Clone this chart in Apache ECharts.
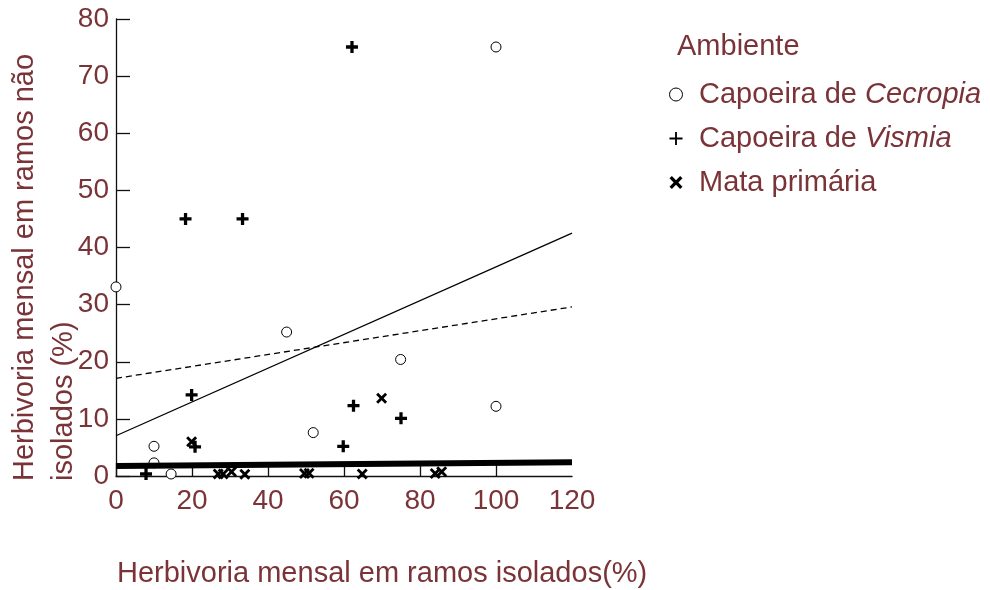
<!DOCTYPE html>
<html>
<head>
<meta charset="utf-8">
<script src="https://cdn.jsdelivr.net/npm/echarts@6/dist/echarts.min.js"></script>
<style>
  html, body { margin: 0; padding: 0; background: #fff; }
  #chart { width: 990px; height: 590px; }
</style>
</head>
<body>
<div id="chart"></div>
<script>
// Monthly herbivory: isolated branches (x) vs non-isolated branches (y), in %
var xTicks = [0, 20, 40, 60, 80, 100, 120];
var yTicks = [0, 10, 20, 30, 40, 50, 60, 70, 80];

var seriesNames = ['Capoeira de Cecropia', 'Capoeira de Vismia', 'Mata primária'];

var cecropia = [
  [0, 33.1], [10, 5.2], [10, 2.3], [14.5, 0.35], [44.9, 25.2],
  [51.9, 7.6], [74.9, 20.4], [100, 12.2], [100, 75.1]
];
var vismia = [
  [62.1, 75.1], [18.3, 45], [33.3, 45], [19.9, 14.2], [20.8, 5.1],
  [7.9, 0.35], [62.5, 12.3], [75, 10.1], [59.8, 5.2]
];
var mata = [
  [19.9, 6.0], [26.9, 0.35], [28.2, 0.35], [30.4, 0.75], [33.9, 0.3],
  [49.6, 0.45], [50.8, 0.5], [64.8, 0.35], [84, 0.45], [85.7, 0.75],
  [69.9, 13.6]
];

// Fitted lines, given by their end points
var fitSolid = [[0, 7.05], [120, 42.5]];
var fitDashed = [[0, 17.1], [120, 29.6]];
var fitThick = [[0, 1.75], [120, 2.4]];

var TEXT = '#7a3438';
var FONT = '"Liberation Sans", Arial, sans-serif';

var plusPath = 'path://M4,0H7V4H11V7H7V11H4V7H0V4H4Z';
var plusThinPath = 'path://M6,0H8V6H14V8H8V14H6V8H0V6H6Z';
var crossPath = 'path://M0,2L2,0L5.5,3.5L9,0L11,2L7.5,5.5L11,9L9,11L5.5,7.5L2,11L0,9L3.5,5.5Z';

var chart = echarts.init(document.getElementById('chart'), null, { renderer: 'canvas' });

var axisLineStyle = { color: '#111', width: 1.3 };

chart.setOption({
  animation: false,
  backgroundColor: '#fff',
  grid: { left: 116, top: 19, right: 418, bottom: 114, containLabel: false },
  xAxis: {
    type: 'value',
    min: xTicks[0],
    max: xTicks[xTicks.length - 1],
    interval: 20,
    axisLine: { show: true, lineStyle: axisLineStyle },
    axisTick: { show: true, inside: true, length: 13, lineStyle: axisLineStyle,
                customValues: xTicks.slice(0, xTicks.length - 1) },
    axisLabel: { show: true, margin: 11, color: TEXT, fontSize: 28, fontFamily: FONT,
                 showMinLabel: true, showMaxLabel: true },
    splitLine: { show: false }
  },
  yAxis: {
    type: 'value',
    min: yTicks[0],
    max: yTicks[yTicks.length - 1],
    interval: 10,
    axisLine: { show: true, lineStyle: axisLineStyle },
    axisTick: { show: true, inside: true, length: 14, lineStyle: axisLineStyle },
    axisLabel: { show: true, margin: 7, color: TEXT, fontSize: 28, fontFamily: FONT,
                 showMinLabel: true, showMaxLabel: true },
    splitLine: { show: false }
  },
  legend: {
    orient: 'vertical',
    left: 664,
    top: 75,
    itemWidth: 36,
    itemHeight: 13,
    itemGap: 15,
    selectedMode: false,
    data: [
      { name: seriesNames[0], icon: 'circle',
        itemStyle: { color: '#fff', borderColor: '#000', borderWidth: 1 } },
      { name: seriesNames[1], icon: plusThinPath, itemStyle: { color: '#000', borderWidth: 0 } },
      { name: seriesNames[2], icon: crossPath, itemStyle: { color: '#000', borderWidth: 0 } }
    ],
    formatter: function (name) {
      if (name === seriesNames[0]) return '{n|Capoeira de }{i|Cecropia}';
      if (name === seriesNames[1]) return '{n|Capoeira de }{i|Vismia}';
      return '{n|' + name + '}';
    },
    textStyle: {
      color: TEXT, fontSize: 29, fontFamily: FONT,
      rich: {
        n: { color: TEXT, fontSize: 29, fontFamily: FONT, lineHeight: 30 },
        i: { color: TEXT, fontSize: 29, fontFamily: FONT, fontStyle: 'italic', lineHeight: 30 }
      }
    }
  },
  graphic: [
    {
      type: 'text', left: 677, top: 32,
      style: { text: 'Ambiente', fill: TEXT, font: '29px ' + FONT }
    },
    {
      type: 'text', x: 117, y: 574,
      style: { text: 'Herbivoria mensal em ramos isolados(%)', fill: TEXT, font: '29px ' + FONT,
               textAlign: 'left', textVerticalAlign: 'middle' }
    },
    {
      type: 'text', x: 25, y: 481, rotation: Math.PI / 2,
      style: { text: 'Herbivoria mensal em ramos não', fill: TEXT, font: '29px ' + FONT,
               textAlign: 'left', textVerticalAlign: 'middle' }
    },
    {
      type: 'text', x: 64, y: 481, rotation: Math.PI / 2,
      style: { text: 'isolados (%)', fill: TEXT, font: '29px ' + FONT,
               textAlign: 'left', textVerticalAlign: 'middle' }
    }
  ],
  series: [
    {
      name: seriesNames[0], type: 'scatter', data: cecropia, clip: false,
      symbol: 'circle', symbolSize: 10, z: 2,
      itemStyle: { color: '#fff', borderColor: '#000', borderWidth: 1, opacity: 1 }
    },
    {
      name: seriesNames[1], type: 'scatter', data: vismia, clip: false,
      symbol: plusPath, symbolSize: 12, z: 2,
      itemStyle: { color: '#000', opacity: 1 }
    },
    {
      name: seriesNames[2], type: 'scatter', data: mata, clip: false,
      symbol: crossPath, symbolSize: 11, z: 2,
      itemStyle: { color: '#000', opacity: 1 }
    },
    {
      name: 'fit-solid', type: 'line', data: fitSolid, showSymbol: false, symbol: 'none', z: 3,
      lineStyle: { color: '#000', width: 1.3, type: 'solid' }
    },
    {
      name: 'fit-dashed', type: 'line', data: fitDashed, showSymbol: false, symbol: 'none', z: 3,
      lineStyle: { color: '#000', width: 1.3, type: [6, 4] }
    },
    {
      name: 'fit-thick', type: 'line', data: fitThick, showSymbol: false, symbol: 'none', z: 3,
      lineStyle: { color: '#000', width: 6, type: 'solid' }
    }
  ]
});
</script>
</body>
</html>
